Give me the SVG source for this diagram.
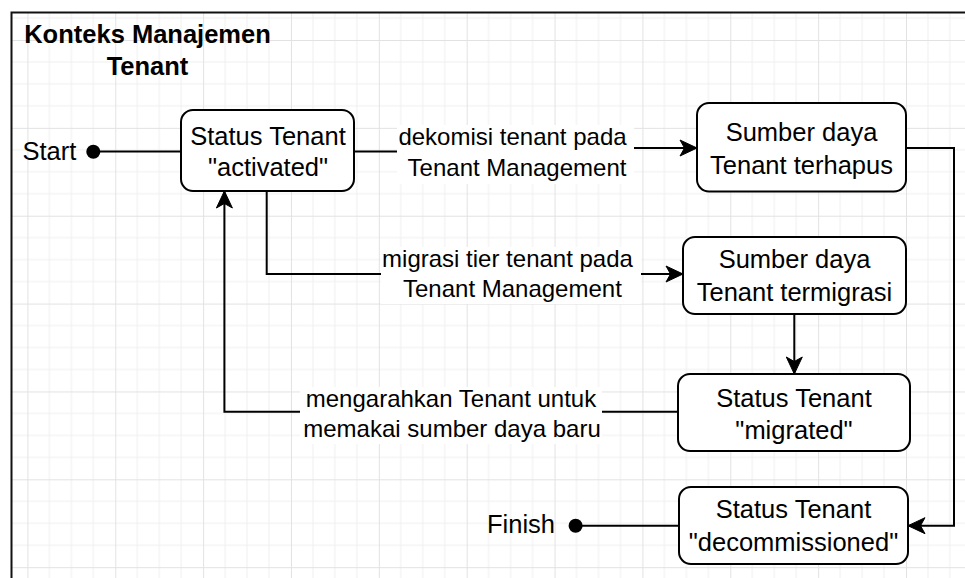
<svg xmlns="http://www.w3.org/2000/svg" width="965" height="578" viewBox="0 0 965 578">
  <style>
    .node rect { fill: #ffffff; stroke: #000000; stroke-width: 2; }
    .ntxt { font-family: "Liberation Sans", Arial, sans-serif; font-size: 25.5px; fill: #000000; text-anchor: middle; }
    .ltxt { font-family: "Liberation Sans", Arial, sans-serif; font-size: 24px; fill: #000000; text-anchor: middle; }
    .title { font-family: "Liberation Sans", Arial, sans-serif; font-size: 25.5px; font-weight: bold; fill: #000000; text-anchor: middle; }
    .edge { fill: none; stroke: #000000; stroke-width: 2; }
    .arrow { stroke: none; stroke-width: 0; }
    .lbg { fill: #ffffff; }
  </style>
  <defs>
    <pattern id="grid" patternUnits="userSpaceOnUse" x="27.4" y="40" width="87.86" height="87.86">
      <path d="M21.965,0 V87.86 M43.93,0 V87.86 M65.895,0 V87.86 M0,21.965 H87.86 M0,43.93 H87.86 M0,65.895 H87.86" stroke="#f0f0f0" stroke-width="1" fill="none"/>
      <path d="M0.5,0 V87.86 M0,0.5 H87.86" stroke="#e2e2e2" stroke-width="1" fill="none"/>
    </pattern>
    <marker id="arr" markerUnits="userSpaceOnUse" markerWidth="20" markerHeight="20" refX="17" refY="8.5" orient="auto" overflow="visible">
      <path d="M17,8.5 L0,0.5 L4.5,8.5 L0,16.5 Z" fill="#000000" stroke="#000000" stroke-width="1" stroke-linejoin="miter"/>
    </marker>
  </defs>

  <rect x="0" y="0" width="965" height="578" fill="#ffffff"/>
  <rect x="12" y="13" width="953" height="565" fill="url(#grid)"/>
  <rect x="11.5" y="12.5" width="1000" height="620" fill="none" stroke="#111111" stroke-width="2"/>

  <g id="title">
    <text class="title" x="147.5" y="43">Konteks Manajemen</text>
    <text class="title" x="147.5" y="75">Tenant</text>
  </g>

  <g id="connectors">
    <path class="edge" d="M93.3,151.5 H181"/>
    <path class="edge" d="M354,151.5 H515 V148 H697" marker-end="url(#arr)"/>
    <path class="edge" d="M266.7,191 V274 H683" marker-end="url(#arr)"/>
    <path class="edge" d="M678,411.7 H224.4 V191" marker-end="url(#arr)"/>
    <path class="edge" d="M794.3,314 V374" marker-end="url(#arr)"/>
    <path class="edge" d="M906,148 H954 V525.7 H908" marker-end="url(#arr)"/>
    <path class="edge" d="M679,525.7 H575.6"/>

    <g id="label-dekomisi">
      <rect class="lbg" x="397" y="125" width="237" height="59"/>
      <text class="ltxt" x="512.5" y="145">dekomisi tenant pada</text>
      <text class="ltxt" x="517" y="176">Tenant Management</text>
    </g>
    <g id="label-migrasi">
      <rect class="lbg" x="381" y="247" width="260" height="57"/>
      <text class="ltxt" x="507.5" y="267">migrasi tier tenant pada</text>
      <text class="ltxt" x="512.4" y="297">Tenant Management</text>
    </g>
    <g id="label-mengarahkan">
      <rect class="lbg" x="300" y="387" width="302" height="57"/>
      <text class="ltxt" x="451" y="407">mengarahkan Tenant untuk</text>
      <text class="ltxt" x="452" y="437">memakai sumber daya baru</text>
    </g>
  </g>

  <g id="start">
    <circle cx="93.3" cy="151.7" r="7" fill="#000000"/>
    <text class="ntxt" x="49.4" y="160">Start</text>
  </g>

  <g id="finish">
    <circle cx="575.6" cy="525.7" r="7" fill="#000000"/>
    <text class="ntxt" x="521" y="533">Finish</text>
  </g>

  <g id="node-activated" class="node">
    <rect x="181" y="110" width="173" height="81" rx="12" ry="12"/>
    <text class="ntxt" x="268" y="145">Status Tenant</text>
    <text class="ntxt" x="268" y="176">"activated"</text>
  </g>

  <g id="node-terhapus" class="node">
    <rect x="697" y="103" width="209" height="88.5" rx="12" ry="12"/>
    <text class="ntxt" x="801.5" y="141">Sumber daya</text>
    <text class="ntxt" x="801.5" y="174">Tenant terhapus</text>
  </g>

  <g id="node-termigrasi" class="node">
    <rect x="683" y="237" width="223" height="77" rx="12" ry="12"/>
    <text class="ntxt" x="794.5" y="268">Sumber daya</text>
    <text class="ntxt" x="794.5" y="301">Tenant termigrasi</text>
  </g>

  <g id="node-migrated" class="node">
    <rect x="678" y="374" width="232" height="77" rx="12" ry="12"/>
    <text class="ntxt" x="794" y="407">Status Tenant</text>
    <text class="ntxt" x="794" y="439">"migrated"</text>
  </g>

  <g id="node-decommissioned" class="node">
    <rect x="679" y="487" width="229" height="77" rx="12" ry="12"/>
    <text class="ntxt" x="793.5" y="518">Status Tenant</text>
    <text class="ntxt" x="793.5" y="551">"decommissioned"</text>
  </g>
</svg>
